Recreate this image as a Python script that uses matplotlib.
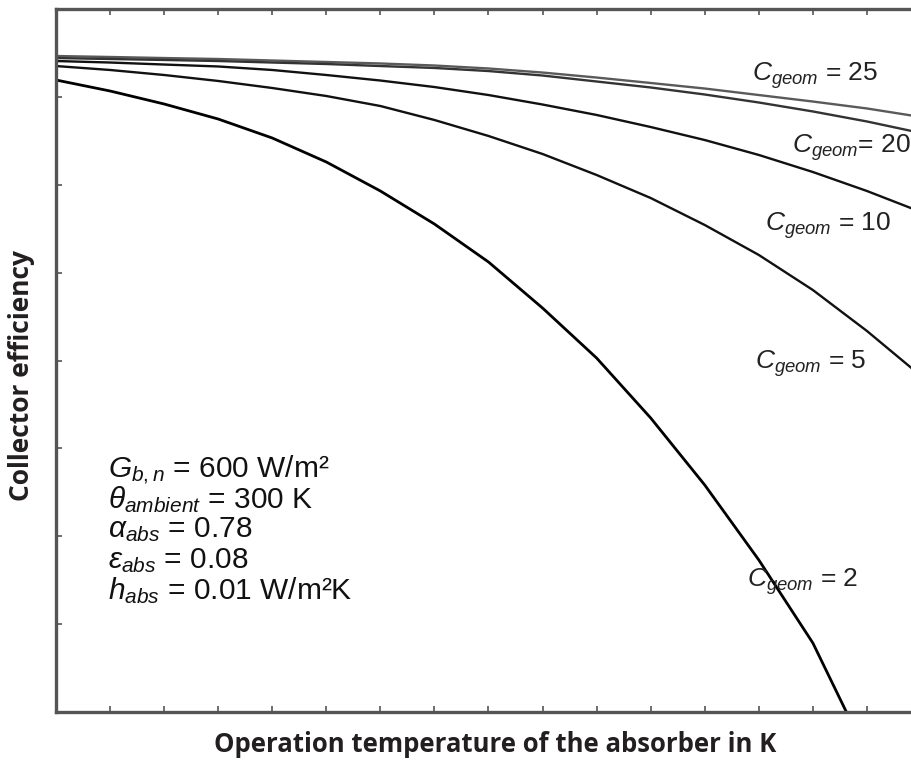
import matplotlib
matplotlib.use("Agg")
import matplotlib.pyplot as plt

plt.rcParams['font.family'] = ['Liberation Sans', 'DejaVu Sans']
plt.rcParams['mathtext.fontset'] = 'custom'
plt.rcParams['mathtext.rm'] = 'Liberation Sans'
plt.rcParams['mathtext.it'] = 'Liberation Sans:italic'

# absorber temperature in K
temp = [300, 350, 400, 450, 500, 550, 600, 650, 700, 750, 800, 850, 900, 950, 1000, 1050, 1100]

# collector efficiency for each concentration ratio
eta_25 = [0.7465, 0.7454, 0.7442, 0.7431, 0.7414, 0.7397, 0.7380, 0.7357, 0.7323,
          0.7277, 0.7220, 0.7158, 0.7095, 0.7021, 0.6947, 0.6868, 0.6771]
eta_20 = [0.7442, 0.7431, 0.7420, 0.7408, 0.7391, 0.7374, 0.7351, 0.7329, 0.7294,
          0.7243, 0.7175, 0.7107, 0.7027, 0.6936, 0.6834, 0.6720, 0.6589]
eta_10 = [0.7408, 0.7391, 0.7368, 0.7346, 0.7306, 0.7249, 0.7186, 0.7112, 0.7021,
          0.6913, 0.6794, 0.6657, 0.6509, 0.6339, 0.6145, 0.5929, 0.5690]
eta_5 = [0.7351, 0.7306, 0.7249, 0.7181, 0.7101, 0.7010, 0.6896, 0.6737, 0.6555,
         0.6350, 0.6111, 0.5849, 0.5542, 0.5201, 0.4802, 0.4336, 0.3824]
temp_2 = [300, 350, 400, 450, 500, 550, 600, 650, 700, 750, 800, 850, 900, 950, 1000, 1031]
eta_2 = [0.7192, 0.7067, 0.6919, 0.6748, 0.6532, 0.6259, 0.5929, 0.5553, 0.5121,
         0.4597, 0.4028, 0.3346, 0.2583, 0.1730, 0.0785, 0.0]

curve_labels = ['25', '20', '10', '5', '2']

params = [r'$G_{b,n}$ = 600 W/m²',
          r'$\theta_{ambient}$ = 300 K',
          r'$\alpha_{abs}$ = 0.78',
          r'$\varepsilon_{abs}$ = 0.08',
          r'$h_{abs}$ = 0.01 W/m²K']

fig = plt.figure(figsize=(9.12, 7.84), dpi=100)
ax = fig.add_axes([56 / 912, 72 / 784, 865 / 912, 703 / 784])

ax.plot(temp, eta_25, color='#5a5a5a', lw=1.7)
ax.plot(temp, eta_20, color='#333333', lw=1.7)
ax.plot(temp, eta_10, color='#111111', lw=1.7)
ax.plot(temp, eta_5, color='#111111', lw=1.7)
ax.plot(temp_2, eta_2, color='#000000', lw=2.0)

ax.set_xlim(300, 1100)
ax.set_ylim(0, 0.8)
ax.set_xticks(range(350, 1100, 50))
ax.set_yticks([0.1, 0.2, 0.3, 0.4, 0.5, 0.6, 0.7])
ax.tick_params(direction='in', top=True, right=True, length=4, width=1.2,
               color='#555555', labelbottom=False, labelleft=False)
for s in ax.spines.values():
    s.set_color('#555555')
    s.set_linewidth(2.4)

# curve labels
lab_pos = [(752, 76), (792, 148), (765, 226), (755, 364), (747, 582)]
for lab, (px, py) in zip(curve_labels, lab_pos):
    sep = '' if lab == '20' else ' '
    fig.text(px / 912, 1 - py / 784, r'$C_{geom}$' + sep + '= ' + lab,
             fontsize=19, va='center', ha='left', color='#222222')

# parameter block
for i, p in enumerate(params):
    fig.text(108 / 912, 1 - (469 + i * 30.5) / 784, p, fontsize=21.5,
             va='center', ha='left', color='#111111')

fig.text(495 / 912, 1 - 745 / 784, 'Operation temperature of the absorber in K',
         fontsize=18.5, fontweight='bold', family='Open Sans', ha='center', va='center',
         color='#231f20')
fig.text(22 / 912, 1 - 375 / 784, 'Collector efficiency', rotation=90,
         fontsize=19, fontweight='bold', family='Open Sans', ha='center', va='center',
         color='#231f20')

fig.savefig('out.png', dpi=100)
